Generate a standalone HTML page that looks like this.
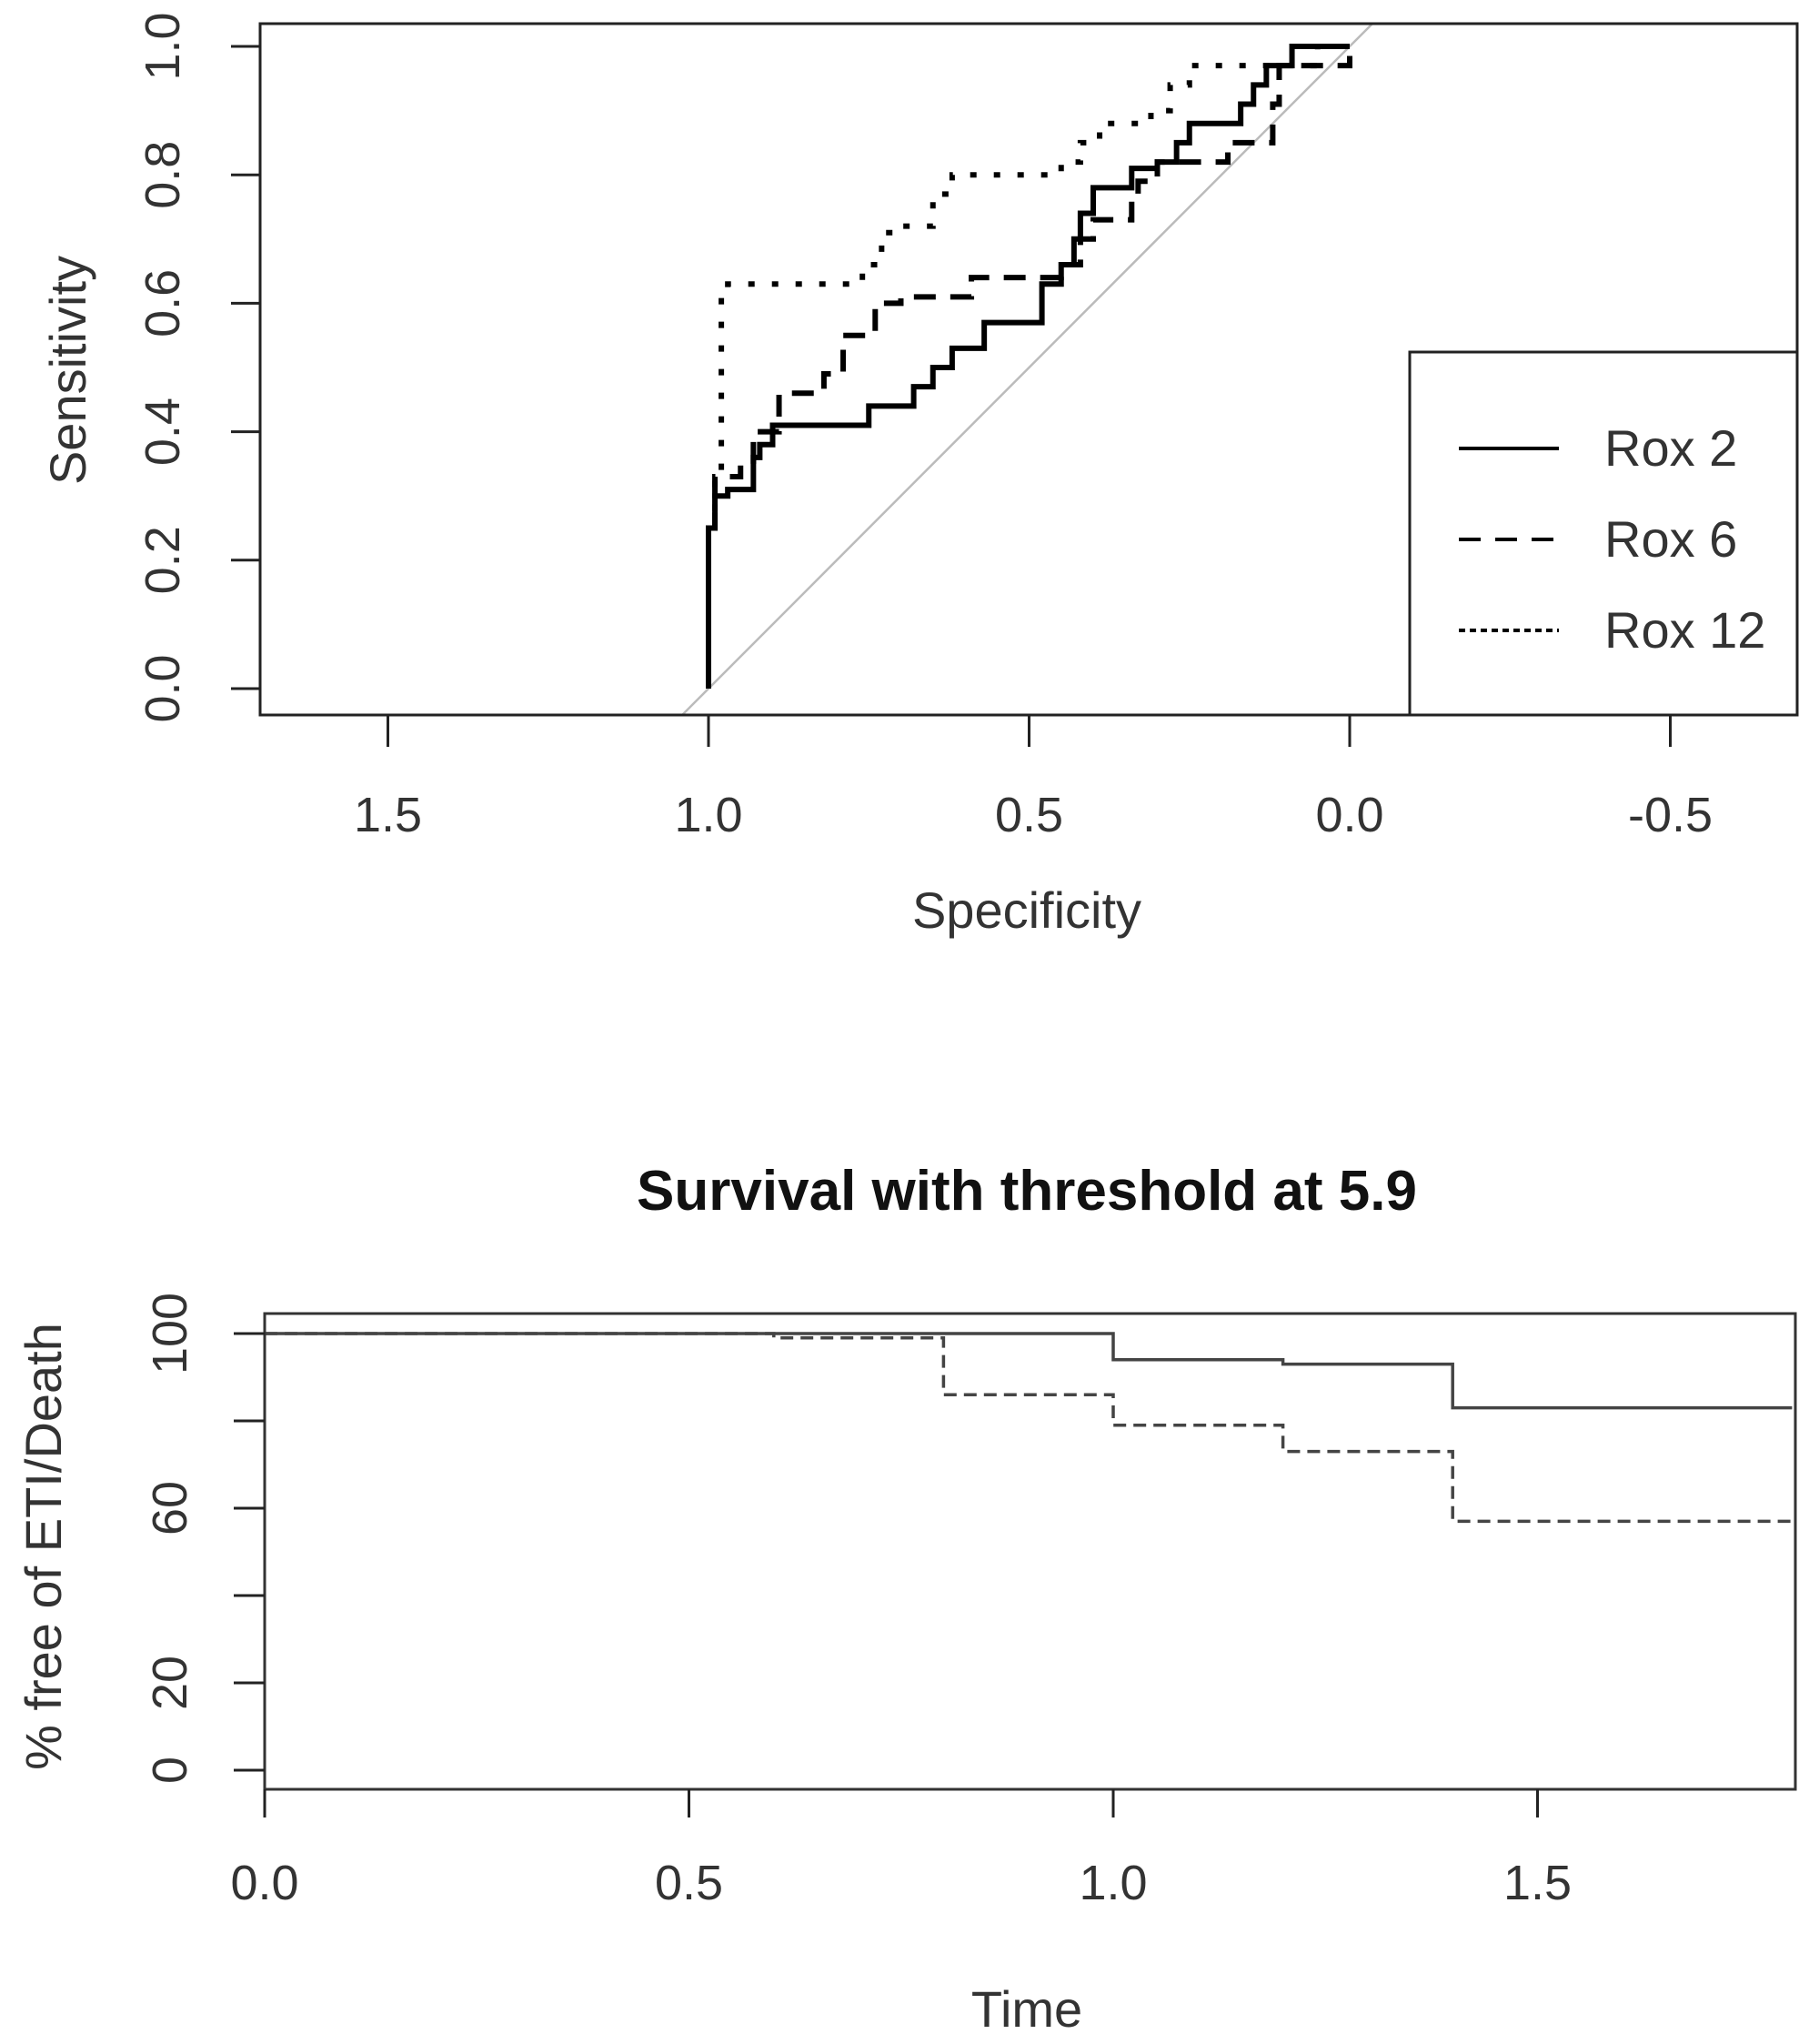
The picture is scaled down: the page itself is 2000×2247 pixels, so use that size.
<!DOCTYPE html>
<html><head><meta charset="utf-8"><style>
html,body{margin:0;padding:0;background:#fff;}
svg{display:block;font-family:"Liberation Sans",sans-serif;}
</style></head><body>
<svg id="chart" width="2000" height="2247" viewBox="0 0 2000 2247" xmlns="http://www.w3.org/2000/svg"></svg>
<script>
// ROC data (specificity, sensitivity)
const rox2Spec = [1,1,0.99,0.97,0.95,0.93,0.92,0.90,0.90,0.77,0.75,0.69,0.68,0.65,0.62,0.59,0.57,0.48,0.48,0.45,0.43,0.42,0.40,0.36,0.34,0.30,0.27,0.25,0.20,0.17,0.15,0.13,0.09,0.09,0];
const rox2Sens = [0,0.25,0.30,0.31,0.31,0.36,0.38,0.38,0.41,0.41,0.44,0.44,0.47,0.50,0.53,0.53,0.57,0.57,0.63,0.66,0.70,0.74,0.78,0.78,0.81,0.82,0.85,0.88,0.88,0.91,0.94,0.97,0.97,1.0,1.0];
const rox6Spec = [1,0.99,0.95,0.93,0.89,0.89,0.85,0.82,0.79,0.76,0.74,0.70,0.59,0.59,0.50,0.45,0.42,0.40,0.36,0.34,0.33,0.30,0.22,0.19,0.14,0.12,0.11,0.05,0];
const rox6Sens = [0.25,0.33,0.35,0.40,0.40,0.46,0.46,0.49,0.55,0.55,0.60,0.61,0.61,0.64,0.64,0.66,0.70,0.73,0.73,0.76,0.79,0.82,0.82,0.85,0.85,0.91,0.97,0.97,1.0];
const rox12Spec = [1,0.99,0.98,0.98,0.97,0.79,0.76,0.73,0.70,0.67,0.65,0.62,0.50,0.45,0.42,0.39,0.34,0.31,0.28,0.25,0.10,0.05,0];
const rox12Sens = [0.25,0.33,0.45,0.62,0.63,0.63,0.66,0.71,0.72,0.72,0.77,0.80,0.80,0.82,0.85,0.88,0.88,0.90,0.94,0.97,0.97,1.0,1.0];
const rocXTicks = [1.5,1.0,0.5,0.0,-0.5];
const rocXTickLabels = ["1.5","1.0","0.5","0.0","-0.5"];
const rocYTicks = [0,0.2,0.4,0.6,0.8,1.0];
const rocYTickLabels = ["0.0","0.2","0.4","0.6","0.8","1.0"];
const legendLabels = ["Rox 2","Rox 6","Rox 12"];
// Survival data
const survTimes = [0,1.0,1.2,1.4,1.8];
const survHigh = [100,94,93,83,83];
const survTimes2 = [0,0.6,0.8,1.0,1.2,1.4,1.8];
const survLow = [100,99,86,79,73,57,57];
const survXTicks = [0,0.5,1.0,1.5];
const survXTickLabels = ["0.0","0.5","1.0","1.5"];
const survYTicks = [0,20,40,60,80,100];
const survYTickLabels = ["0","20","","60","","100"];

const NS = "http://www.w3.org/2000/svg";
const svg = document.getElementById('chart');
function mk(tag, attrs, parent){const e=document.createElementNS(NS,tag);for(const k in attrs)e.setAttribute(k,attrs[k]);(parent||svg).appendChild(e);return e;}

const rx = v => 1484 - (1484-779)*v;
const ry = v => 757 - (757-51)*v;
mk('defs',{}).innerHTML='<clipPath id="c1"><rect x="286" y="26" width="1690" height="760"/></clipPath><clipPath id="c2"><rect x="291" y="1444" width="1683" height="523"/></clipPath>';
const topG = mk('g',{});


const diag = mk('line',{x1:rx(1.04),y1:ry(-0.04),x2:rx(-0.04),y2:ry(1.04),stroke:'#bbb','stroke-width':2.5,'clip-path':'url(#c1)'},topG);


function stepPath(xs,ys,fx,fy){let d='M'+fx(xs[0])+' '+fy(ys[0]);for(let i=1;i<xs.length;i++){d+=' H'+fx(xs[i])+' V'+fy(ys[i]);}return d;}
const series=[[rox2Spec,rox2Sens,'none','rox2-curve'],[rox6Spec,rox6Sens,'24 16','rox6-curve'],[rox12Spec,rox12Sens,'7 19','rox12-curve']];
series.forEach(s=>{const p=mk('path',{d:stepPath(s[0],s[1],rx,ry),fill:'none',stroke:'#000','stroke-width':6,'stroke-dasharray':s[2],'stroke-linejoin':'miter'},topG);

});
const b1=mk('rect',{x:286,y:26,width:1690,height:760,fill:'none',stroke:'#222','stroke-width':3},topG);


rocXTicks.forEach((t,i)=>{mk('line',{x1:rx(t),y1:786,x2:rx(t),y2:821,stroke:'#222','stroke-width':3},topG);
const tx=mk('text',{x:rx(t),y:914,'font-size':54,'text-anchor':'middle',fill:'#333'},topG);tx.textContent=rocXTickLabels[i];

});
rocYTicks.forEach((t,i)=>{mk('line',{x1:254,y1:ry(t),x2:286,y2:ry(t),stroke:'#222','stroke-width':3},topG);
const tx=mk('text',{x:0,y:0,'font-size':54,'text-anchor':'middle',fill:'#333',transform:`translate(197,${ry(t)}) rotate(-90)`},topG);tx.textContent=rocYTickLabels[i];

});
let t1=mk('text',{x:1129,y:1020,'font-size':56,'text-anchor':'middle',fill:'#333'},topG);t1.textContent='Specificity';


let t2=mk('text',{x:0,y:0,'font-size':56,'text-anchor':'middle',fill:'#333',transform:'translate(94,407) rotate(-90)'},topG);t2.textContent='Sensitivity';


const lg=mk('g',{},topG);


mk('rect',{x:1550,y:387,width:426,height:399,fill:'#fff',stroke:'#222','stroke-width':3},lg);
const dashes=['none','24 16','7 5'];
legendLabels.forEach((l,i)=>{const y=493+i*100;mk('line',{x1:1604,y1:y,x2:1714,y2:y,stroke:'#000','stroke-width':4,'stroke-dasharray':dashes[i]},lg);
const tx=mk('text',{x:1764,y:y+19,'font-size':56,fill:'#333'},lg);tx.textContent=l;

});

const sx = v => 291 + (1224-291)*v;
const sy = v => 1946 - (1946-1466)*v/100;
const botG=mk('g',{});


let tt=mk('text',{x:1129,y:1330,'font-size':62,'font-weight':'bold','text-anchor':'middle',fill:'#111'},botG);tt.textContent='Survival with threshold at 5.9';


function kmPath(ts,vs){let d='M'+sx(ts[0])+' '+sy(vs[0]);for(let i=1;i<ts.length;i++){d+=' H'+sx(ts[i])+' V'+sy(vs[i]);}return d;}
const k1=mk('path',{d:kmPath(survTimes,survHigh),fill:'none',stroke:'#444','stroke-width':3.5,'clip-path':'url(#c2)'},botG);


const k2=mk('path',{d:kmPath(survTimes2,survLow),fill:'none',stroke:'#444','stroke-width':3.5,'stroke-dasharray':'14 8','clip-path':'url(#c2)'},botG);


const b2=mk('rect',{x:291,y:1444,width:1683,height:523,fill:'none',stroke:'#333','stroke-width':3},botG);


survXTicks.forEach((t,i)=>{mk('line',{x1:sx(t),y1:1967,x2:sx(t),y2:1998,stroke:'#222','stroke-width':3},botG);
const tx=mk('text',{x:sx(t),y:2088,'font-size':54,'text-anchor':'middle',fill:'#333'},botG);tx.textContent=survXTickLabels[i];

});
survYTicks.forEach((t,i)=>{mk('line',{x1:257,y1:sy(t),x2:291,y2:sy(t),stroke:'#222','stroke-width':3},botG);
const tx=mk('text',{x:0,y:0,'font-size':54,'text-anchor':'middle',fill:'#333',transform:`translate(205,${sy(t)}) rotate(-90)`},botG);tx.textContent=survYTickLabels[i];

});
let t3=mk('text',{x:1129,y:2228,'font-size':56,'text-anchor':'middle',fill:'#333'},botG);t3.textContent='Time';


let t4=mk('text',{x:0,y:0,'font-size':56,'text-anchor':'middle',fill:'#333',transform:'translate(67,1700) rotate(-90)'},botG);t4.textContent='% free of ETI/Death';


</script>
</body></html>
